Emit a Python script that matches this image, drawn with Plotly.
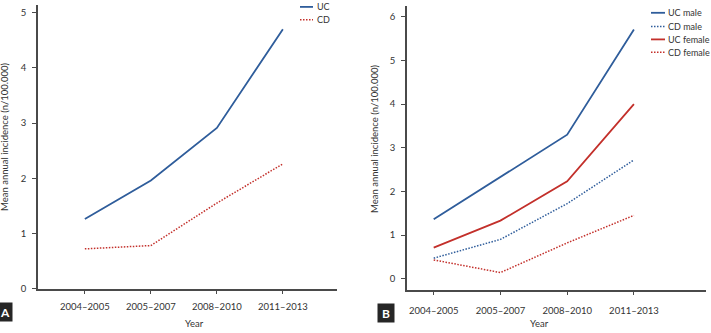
import plotly.graph_objects as go

periods = ["2004–2005", "2005–2007", "2008–2010", "2011–2013"]

# Panel A
uc_all = [1.26, 1.96, 2.91, 4.70]
cd_all = [0.72, 0.78, 1.55, 2.26]

# Panel B
uc_male = [1.36, 2.34, 3.30, 5.71]
cd_male = [0.47, 0.90, 1.72, 2.72]
uc_female = [0.71, 1.33, 2.23, 4.00]
cd_female = [0.43, 0.14, 0.82, 1.45]

BLUE = "#2f5d9b"
RED = "#c3302b"
AX = "#4a4a4a"
TXT = "#333333"
FONT = "Lato"
DOT = "1.5px,1.5px"

W, H = 711, 333

def fx(px):
    return px / W

def fy(py):
    return 1 - py / H

series_a = [("UC", uc_all, BLUE, "solid"), ("CD", cd_all, RED, DOT)]
series_b = [("UC male", uc_male, BLUE, "solid"), ("CD male", cd_male, BLUE, DOT),
            ("UC female", uc_female, RED, "solid"), ("CD female", cd_female, RED, DOT)]

fig = go.Figure()
for name, vals, col, dash in series_a:
    fig.add_trace(go.Scatter(x=periods, y=vals, name=name, mode="lines", showlegend=False,
                             line=dict(color=col, width=1.8 if dash == "solid" else 1.5, dash=dash),
                             xaxis="x", yaxis="y"))
for name, vals, col, dash in series_b:
    fig.add_trace(go.Scatter(x=periods, y=vals, name=name, mode="lines", showlegend=False,
                             line=dict(color=col, width=1.8 if dash == "solid" else 1.5, dash=dash),
                             xaxis="x2", yaxis="y2"))

axis_common = dict(showline=True, linecolor=AX, linewidth=1.5, ticks="outside",
                   ticklen=4, tickcolor=AX, tickwidth=1.2, showgrid=False, zeroline=False,
                   tickfont=dict(family=FONT, size=9.5, color=TXT))

fig.update_layout(
    width=W, height=H,
    margin=dict(l=0, r=0, t=0, b=0),
    paper_bgcolor="white", plot_bgcolor="white",
    font=dict(family=FONT, size=9, color=TXT),
    showlegend=False,
    xaxis=dict(domain=[fx(38), fx(337)], anchor="y", type="category",
               range=[-0.71, 3.82], ticklabelstandoff=4, **axis_common),
    yaxis=dict(domain=[fy(293), fy(5)], anchor="x", range=[0, 5.14],
               tickvals=[0, 1, 2, 3, 4, 5], ticklabelstandoff=4, **axis_common),
    xaxis2=dict(domain=[fx(407), fx(706)], anchor="y2", type="category",
                range=[-0.4, 4.08], ticklabelstandoff=7, **axis_common),
    yaxis2=dict(domain=[fy(294), fy(6)], anchor="x2", range=[-0.25, 6.25],
                tickvals=[0, 1, 2, 3, 4, 5, 6], ticklabelstandoff=4, **axis_common),
)

ytitle = "Mean annual incidence (n/100.000)"
tf = dict(family=FONT, size=9.5, color=TXT)
ann = [
    dict(text="Year", x=fx(183), y=fy(328), yanchor="middle", xref="paper", yref="paper",
         showarrow=False, font=tf),
    dict(text="Year", x=fx(551), y=fy(328), yanchor="middle", xref="paper", yref="paper",
         showarrow=False, font=tf),
    dict(text=ytitle, x=fx(5), y=fy(139), xanchor="center", yanchor="middle",
         xref="paper", yref="paper", textangle=-90, showarrow=False,
         font=dict(family=FONT, size=9.5, color=TXT)),
    dict(text=ytitle, x=fx(375), y=fy(141), xanchor="center", yanchor="middle",
         xref="paper", yref="paper", textangle=-90, showarrow=False,
         font=dict(family=FONT, size=9.5, color=TXT)),
    dict(text="<b>A</b>", x=fx(-3), y=fy(317), xref="paper", yref="paper",
         xanchor="left", yanchor="middle",
         showarrow=False, bgcolor="#262626", font=dict(family=FONT, size=12, color="white"),
         width=12, height=16),
    dict(text="<b>B</b>", x=fx(377), y=fy(317.5), xref="paper", yref="paper",
         xanchor="left", yanchor="middle",
         showarrow=False, bgcolor="#262626", font=dict(family=FONT, size=12, color="white"),
         width=14, height=16),
]

# manual legends (line samples + labels)
shapes = []
def add_legend(items, x0, x1, xt, ys):
    for (name, vals, col, dash), yy in zip(items, ys):
        shapes.append(dict(type="line", xref="paper", yref="paper",
                           x0=fx(x0), x1=fx(x1), y0=fy(yy), y1=fy(yy),
                           line=dict(color=col, width=1.8 if dash == "solid" else 1.5, dash=dash)))
        ann.append(dict(text=name, x=fx(xt), y=fy(yy), xref="paper", yref="paper",
                        xanchor="left", yanchor="middle", showarrow=False,
                        font=dict(family=FONT, size=9, color=TXT)))

add_legend(series_a, 300, 313, 315, [7, 20])
add_legend(series_b, 651, 665, 666, [13, 27, 40, 53])

fig.update_layout(annotations=ann, shapes=shapes)

fig.write_html("out.html")
